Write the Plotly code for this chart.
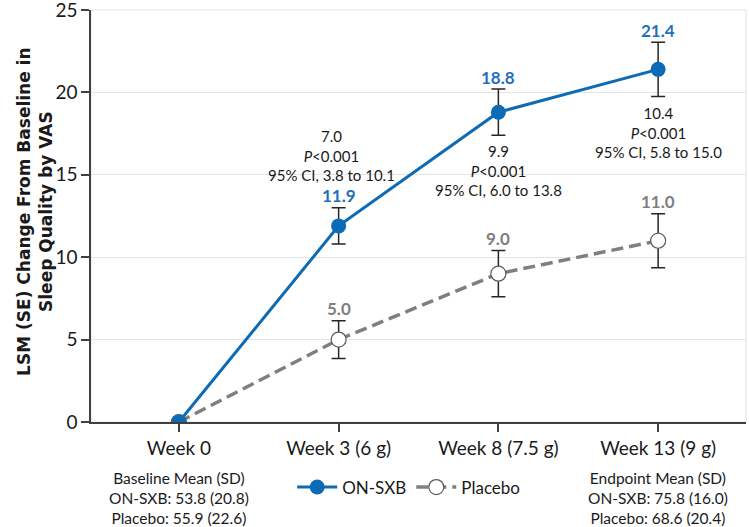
import plotly.graph_objects as go

# ---- data ----
categories = ["Week 0", "Week 3 (6 g)", "Week 8 (7.5 g)", "Week 13 (9 g)"]
on_sxb_mean = [0.0, 11.9, 18.8, 21.4]
on_sxb_se = [None, 1.1, 1.4, 1.65]
placebo_mean = [0.0, 5.0, 9.0, 11.0]
placebo_se = [None, 1.15, 1.4, 1.64]
diff_vals = [7.0, 9.9, 10.4]
ci_low = [3.8, 6.0, 5.8]
ci_high = [10.1, 13.8, 15.0]
p_text = ["<0.001", "<0.001", "<0.001"]
y_ticks = [0, 5, 10, 15, 20, 25]
baseline_text = ["Baseline Mean (SD)", "ON-SXB: 53.8 (20.8)", "Placebo: 55.9 (22.6)"]
endpoint_text = ["Endpoint Mean (SD)", "ON-SXB: 75.8 (16.0)", "Placebo: 68.6 (20.4)"]

BLUE = "#0C6BB6"
BLUE_TXT = "#1F70BC"
GRAY = "#7F7F7F"
FONT = "Lato"
TXT = "#1a1a1a"

fig = go.Figure()

fig.add_trace(go.Scatter(
    x=categories, y=placebo_mean, name="Placebo", mode="lines+markers",
    line=dict(color=GRAY, width=3.5, dash="12px,6px"),
    marker=dict(size=15, color="white", line=dict(color="#595959", width=1.2)),
    error_y=dict(type="data", array=placebo_se, visible=True, color="#262626", thickness=1.5, width=7),
    legendrank=2,
))
fig.add_trace(go.Scatter(
    x=categories, y=on_sxb_mean, name="ON-SXB", mode="lines+markers",
    line=dict(color=BLUE, width=3),
    marker=dict(size=15, color=BLUE),
    error_y=dict(type="data", array=on_sxb_se, visible=True, color="#262626", thickness=1.5, width=7),
    legendrank=1,
))

annotations = []
# value labels
for i in range(1, len(categories)):
    annotations.append(dict(x=categories[i], y=on_sxb_mean[i] + on_sxb_se[i], text=f"<b>{on_sxb_mean[i]:.1f}</b>",
                            showarrow=False, yanchor="middle", yshift=12,
                            font=dict(family=FONT, size=17, color=BLUE_TXT)))
    annotations.append(dict(x=categories[i], y=placebo_mean[i] + placebo_se[i], text=f"<b>{placebo_mean[i]:.1f}</b>",
                            showarrow=False, yanchor="middle", yshift=12,
                            font=dict(family=FONT, size=17, color=GRAY)))

# comparison annotations
for k in range(3):
    i = k + 1
    txt = f"{diff_vals[k]:.1f}<br><i>P</i>{p_text[k]}<br>95% CI, {ci_low[k]:.1f} to {ci_high[k]:.1f}"
    if i == 1:
        annotations.append(dict(x=categories[i], y=on_sxb_mean[i] + on_sxb_se[i], text=txt, showarrow=False,
                                yanchor="bottom", yshift=22, xshift=-7, align="center",
                                font=dict(family=FONT, size=15, color=TXT)))
    else:
        annotations.append(dict(x=categories[i], y=on_sxb_mean[i] - on_sxb_se[i], text=txt, showarrow=False,
                                yanchor="top", yshift=-5, align="center",
                                font=dict(family=FONT, size=15, color=TXT)))

# bottom text blocks
annotations.append(dict(x=categories[0], y=0, yref="y", text="<br>".join(baseline_text), showarrow=False,
                        yanchor="top", yshift=-45, align="center",
                        font=dict(family=FONT, size=15.5, color=TXT)))
annotations.append(dict(x=categories[3], y=0, yref="y", text="<br>".join(endpoint_text), showarrow=False,
                        yanchor="top", yshift=-45, align="center",
                        font=dict(family=FONT, size=15.5, color=TXT)))

# y-axis title
annotations.append(dict(x=0, xref="paper", y=0.51, yref="paper", xshift=-56, textangle=-90,
                        text="<b>LSM (SE) Change From Baseline in<br>Sleep Quality by VAS</b>",
                        showarrow=False, xanchor="center", yanchor="middle", align="center",
                        font=dict(family="DejaVu Sans", size=17, color=TXT)))

fig.update_layout(
    width=749, height=527,
    margin=dict(l=91, r=3, t=10, b=105, autoexpand=False),
    paper_bgcolor="white", plot_bgcolor="white",
    font=dict(family=FONT, color=TXT),
    showlegend=True,
    legend=dict(orientation="h", x=0.485, xanchor="center", y=-0.159, yanchor="middle",
                font=dict(family=FONT, size=17, color=TXT), itemwidth=40,
                bgcolor="rgba(0,0,0,0)"),
    annotations=annotations,
    shapes=[dict(type="rect", xref="paper", yref="paper", x0=0, x1=1, y0=0, y1=1,
                 line=dict(color="#E3E3E8", width=1), layer="below")],
)

fig.update_xaxes(
    type="category", range=[-0.55, 3.55], automargin=False,
    showline=True, linecolor="#404040", linewidth=1.5,
    ticks="outside", ticklen=8, tickcolor="#404040", tickwidth=1.5,
    showgrid=False, zeroline=False,
    tickfont=dict(family=FONT, size=19, color=TXT),
)
fig.update_yaxes(
    range=[0, 25.001], tickvals=y_ticks, automargin=False, ticklabeloverflow="allow",
    showline=True, linecolor="#404040", linewidth=1.5,
    ticks="outside", ticklen=8, tickcolor="#404040", tickwidth=1.5,
    showgrid=True, gridcolor="#E3E3E8", gridwidth=1, zeroline=False,
    tickfont=dict(family=FONT, size=19, color=TXT),
)

fig.write_html("out.html", config={"displayModeBar": False},
               post_script="document.body.style.margin='0px';")
